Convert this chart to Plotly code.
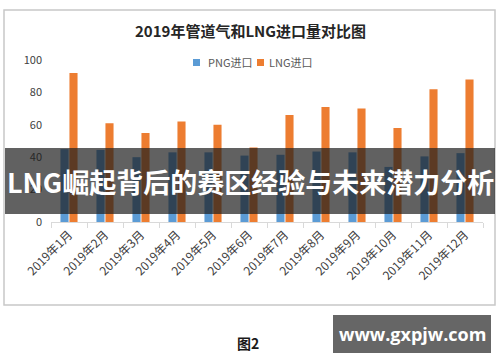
import plotly.graph_objects as go

months = [f"2019年{i}月" for i in range(1, 13)]
png_import = [45, 44.5, 40, 43, 43, 41, 41.5, 43.5, 43, 34, 40.5, 42.5]
lng_import = [92, 61, 55, 62, 60, 46, 66, 71, 70, 58, 82, 88]
y_ticks = [0, 20, 40, 60, 80, 100]
series_names = ["PNG进口", "LNG进口"]
series_colors = ["#5B9BD5", "#ED7D31"]

W, H = 500, 362
L, R, T, B = 51, 483, 60, 222  # plot area in pixels
def px(x):
    return (x - L) / (R - L)
def py(y):
    return (B - y) / (B - T)

CJK = "Noto Sans CJK SC"

fig = go.Figure()
fig.add_trace(go.Bar(x=months, y=png_import, name=series_names[0], marker=dict(color=series_colors[0], line=dict(width=0))))
fig.add_trace(go.Bar(x=months, y=lng_import, name=series_names[1], marker=dict(color=series_colors[1], line=dict(width=0))))

# manual legend (text is real text)
legend_sq_x = [193, 257]
legend_tx_x = [206, 267]
annotations = [
    dict(text="<b>2019年管道气和LNG进口量对比图</b>", x=px(250), y=py(30), xref="paper", yref="paper",
         showarrow=False, font=dict(family=CJK, size=15, color="#262626"), xanchor="center", yanchor="middle"),
    dict(text="<b>LNG崛起背后的赛区经验与未来潜力分析</b>", x=px(250), y=py(181), xref="paper", yref="paper",
         showarrow=False, font=dict(family=CJK, size=27, color="white"), xanchor="center", yanchor="middle"),
    dict(text="<b>图2</b>", x=px(248), y=py(343), xref="paper", yref="paper",
         showarrow=False, font=dict(family=CJK, size=14, color="#1a1a1a"), xanchor="center", yanchor="middle"),
    dict(text="<b>www.gxpjw.com</b>", x=px(412), y=py(334), xref="paper", yref="paper",
         showarrow=False, font=dict(family="Open Sans", size=18, color="white"), xanchor="center", yanchor="middle"),
]
shapes = [
    dict(type="rect", xref="paper", yref="paper", x0=px(4), x1=px(495), y0=py(10), y1=py(305),
         line=dict(color="#C8C8C8", width=1.5), fillcolor="rgba(0,0,0,0)", layer="below"),
    dict(type="rect", xref="paper", yref="paper", x0=px(5), x1=px(495), y0=py(148), y1=py(214),
         line=dict(width=0), fillcolor="rgba(30,30,30,0.7)", layer="above"),
    dict(type="rect", xref="paper", yref="paper", x0=px(333), x1=px(491), y0=py(315), y1=py(353),
         line=dict(width=0), fillcolor="#666666", layer="above"),
]
for name, col, sx, tx in zip(series_names, series_colors, legend_sq_x, legend_tx_x):
    shapes.append(dict(type="rect", xref="paper", yref="paper", x0=px(sx), x1=px(sx + 7),
                       y0=py(59), y1=py(66), line=dict(width=0), fillcolor=col))
    annotations.append(dict(text=name, x=px(tx), y=py(62.5), xref="paper", yref="paper", showarrow=False,
                            font=dict(family=CJK, size=11, color="#595959"), xanchor="left", yanchor="middle"))

fig.update_layout(
    width=W, height=H,
    margin=dict(l=L, r=W - R, t=T, b=H - B, pad=0),
    paper_bgcolor="white", plot_bgcolor="white",
    barmode="group", bargap=0.5, bargroupgap=0.1,
    font=dict(family=CJK, size=11, color="#404040"),
    showlegend=False,
    xaxis=dict(type="category", tickangle=-45, showgrid=False, showline=True,
               linecolor="#D9D9D9", linewidth=1, ticks="outside", tickson="boundaries",
               ticklen=5, tickcolor="#D9D9D9", tickfont=dict(size=12, color="#404040"),
               fixedrange=True),
    yaxis=dict(range=[0, 100], tickvals=y_ticks, showgrid=False, showline=False,
               zeroline=False, ticks="", tickfont=dict(size=11, color="#404040"),
               ticklabelstandoff=8, fixedrange=True),
    annotations=annotations,
    shapes=shapes,
)

fig.write_html("out.html", config={"displayModeBar": False},
               post_script="document.body.style.margin='0';document.body.style.padding='0';")
